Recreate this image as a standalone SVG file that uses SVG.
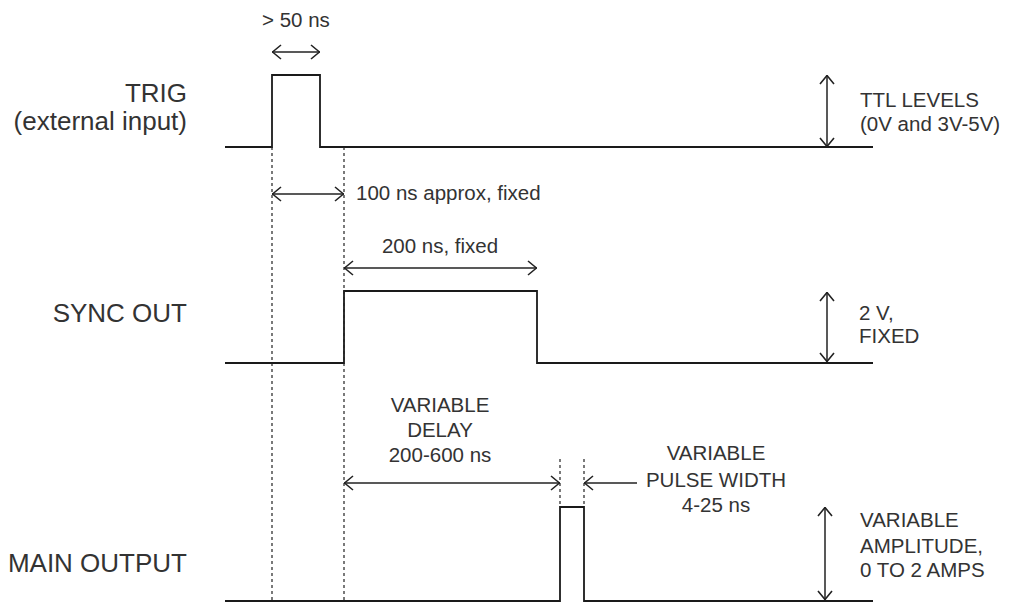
<svg xmlns="http://www.w3.org/2000/svg" width="1012" height="614" viewBox="0 0 1012 614">
<defs>
<marker id="ah" viewBox="0 0 10 16" refX="10" refY="8" markerWidth="10" markerHeight="16" markerUnits="userSpaceOnUse" orient="auto-start-reverse">
<path d="M1,1 L9.5,8 L1,15" fill="none" stroke="#222" stroke-width="1.6"/>
</marker>
<style>
.sig{fill:none;stroke:#1a1a1a;stroke-width:1.8}
.dim{fill:none;stroke:#222;stroke-width:1.5;marker-start:url(#ah);marker-end:url(#ah)}
.one{fill:none;stroke:#222;stroke-width:1.5;marker-end:url(#ah)}
.dash{fill:none;stroke:#222;stroke-width:1.2;stroke-dasharray:3,3}
.lbl{font-family:"Liberation Sans",Arial,sans-serif;font-size:26px;fill:#333;text-anchor:end}
.ann{font-family:"Liberation Sans",Arial,sans-serif;font-size:20.5px;fill:#333}
.mid{text-anchor:middle}
</style>
</defs>
<rect width="1012" height="614" fill="#fff"/>
<g id="trig">
<path class="sig" d="M225,147 H272 V75 H320 V147 H873"/>
<text class="lbl" x="187" y="102">TRIG</text>
<text class="lbl" x="187" y="130">(external input)</text>
</g>
<g id="sync">
<path class="sig" d="M225,363 H344 V291 H537 V363 H873"/>
<text class="lbl" x="187" y="322">SYNC OUT</text>
</g>
<g id="main">
<path class="sig" d="M225,601 H560 V507 H584 V601 H873"/>
<text class="lbl" x="187" y="572">MAIN OUTPUT</text>
</g>
<g id="connectors">
<path class="dash" d="M272,147 V602 M344,147 V602 M560,459 V507 M584,459 V507"/>
<path class="dim" d="M272,52 H320"/>
<path class="dim" d="M272,194 H344"/>
<path class="dim" d="M344,268 H537"/>
<path class="dim" d="M344,483 H560"/>
<path class="one" d="M637,483 H584"/>
<path class="dim" d="M827,75 V147"/>
<path class="dim" d="M827,292 V362"/>
<path class="dim" d="M825,507 V600"/>
</g>
<g id="annotations">
<text class="ann" x="262" y="27">&gt; 50 ns</text>
<text class="ann" x="356" y="200">100 ns approx, fixed</text>
<text class="ann mid" x="440" y="253">200 ns, fixed</text>
<text class="ann mid" x="440" y="412">VARIABLE</text>
<text class="ann mid" x="440" y="437">DELAY</text>
<text class="ann mid" x="440" y="462">200-600 ns</text>
<text class="ann mid" x="716" y="460">VARIABLE</text>
<text class="ann mid" x="716" y="487">PULSE WIDTH</text>
<text class="ann mid" x="716" y="512">4-25 ns</text>
<text class="ann" x="860" y="107">TTL LEVELS</text>
<text class="ann" x="860" y="131">(0V and 3V-5V)</text>
<text class="ann" x="859" y="320">2 V,</text>
<text class="ann" x="859" y="343">FIXED</text>
<text class="ann" x="860" y="527">VARIABLE</text>
<text class="ann" x="860" y="553">AMPLITUDE,</text>
<text class="ann" x="860" y="577">0 TO 2 AMPS</text>
</g>
</svg>
